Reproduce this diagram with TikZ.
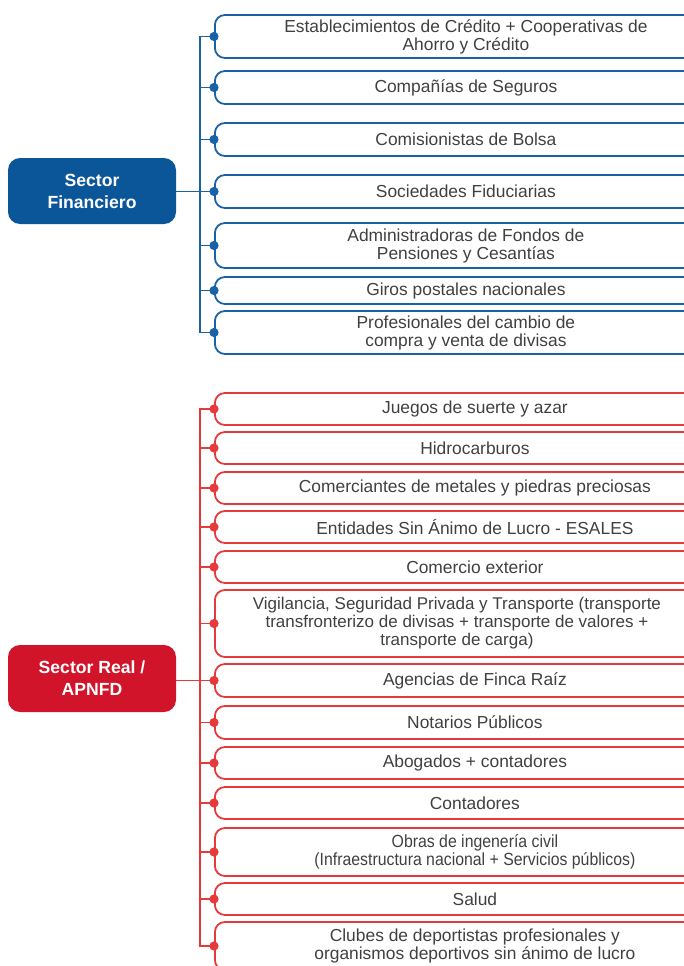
\documentclass[tikz,border=0pt]{standalone}
\usepackage{fontspec}
\setmainfont{Liberation Sans}
\newfontfamily\condfont[FakeStretch=0.9]{Liberation Sans}
\definecolor{bline}{HTML}{1A62A6}
\definecolor{bfill}{HTML}{0B5699}
\definecolor{rline}{HTML}{E6393B}
\definecolor{rfill}{HTML}{D2142B}
\definecolor{txt}{HTML}{404040}
\begin{document}
\begin{tikzpicture}[x=1pt,y=-1pt,
  itembox/.style={draw, line width=1.8pt, rounded corners=10pt, anchor=west, inner sep=0pt,
    align=center, text=txt, font=\fontsize{17.4}{18}\selectfont},
  bbox/.style={itembox, draw=bline, minimum width=502pt},
  rbox/.style={itembox, draw=rline, minimum width=520pt},
  condtext/.style={font=\condfont\fontsize{17.6}{18}\selectfont},
  sectorbox/.style={rounded corners=12pt, minimum width=168pt, inner sep=0pt, align=center,
    text=white, font=\fontsize{17.6}{22}\selectfont\bfseries},
  bconn/.style={draw=bline, line width=1.4pt},
  rconn/.style={draw=rline, line width=1.4pt},
  bdot/.style={fill=bline},
  rdot/.style={fill=rline},
]
\useasboundingbox (0,0) rectangle (684,966);

% ---------- Sector Financiero ----------
\node[sectorbox, fill=bfill, minimum height=66pt] (sf) at (92,191) {Sector\\Financiero};

\node[bbox, minimum height=43pt] (b1) at (214,36.5) {Establecimientos de Crédito + Cooperativas de\\Ahorro y Crédito};
\node[bbox, minimum height=33pt] (b2) at (214,87.5) {Compañías de Seguros};
\node[bbox, minimum height=33pt] (b3) at (214,139.5) {Comisionistas de Bolsa};
\node[bbox, minimum height=33pt] (b4) at (214,191.5) {Sociedades Fiduciarias};
\node[bbox, minimum height=45pt] (b5) at (214,245.5) {Administradoras de Fondos de\\Pensiones y Cesantías};
\node[bbox, minimum height=27pt] (b6) at (214,290.5) {Giros postales nacionales};
\node[bbox, minimum height=43pt] (b7) at (214,332.5) {Profesionales del cambio de\\compra y venta de divisas};

\coordinate (bspine) at (200,0);
\draw[bconn] (b1.west) -- (b1.west -| bspine) -- (b7.west -| bspine) -- (b7.west);
\foreach \i in {2,...,6} \draw[bconn] (b\i.west -| bspine) -- (b\i.west);
\draw[bconn] (sf.east |- b4.west) -- (b4.west);
\foreach \i in {1,...,7} \fill[bdot] (b\i.west) circle (4.6pt);

% ---------- Sector Real / APNFD ----------
\node[sectorbox, fill=rfill, minimum height=67pt] (sr) at (92,678.5) {Sector Real /\\APNFD};

\node[rbox, minimum height=32pt] (r1) at (214,409) {Juegos de suerte y azar};
\node[rbox, minimum height=32pt] (r2) at (214,448) {Hidrocarburos};
\node[rbox, minimum height=32pt] (r3) at (214,488) {Comerciantes de metales y piedras preciosas};
\node[rbox, minimum height=32pt] (r4) at (214,527) {Entidades Sin Ánimo de Lucro - ESALES};
\node[rbox, minimum height=32pt] (r5) at (214,567) {Comercio exterior};
\node[rbox, minimum width=484pt, minimum height=67pt, font=\fontsize{17}{18}\selectfont] (r6) at (214,623.5) {Vigilancia, Seguridad Privada y Transporte (transporte\\transfronterizo de divisas + transporte de valores +\\transporte de carga)};
\node[rbox, minimum height=33pt] (r7) at (214,680.5) {Agencias de Finca Raíz};
\node[rbox, minimum height=33pt] (r8) at (214,722.5) {Notarios Públicos};
\node[rbox, minimum height=32pt] (r9) at (214,763) {Abogados + contadores};
\node[rbox, minimum height=32pt] (r10) at (214,803) {Contadores};
\node[rbox, condtext, minimum height=48pt] (r11) at (214,852) {Obras de ingenería civil\\(Infraestructura nacional + Servicios públicos)};
\node[rbox, minimum height=32pt] (r12) at (214,899) {Salud};
\node[rbox, minimum height=48pt] (r13) at (214,946) {Clubes de deportistas profesionales y\\organismos deportivos sin ánimo de lucro};

\coordinate (rspine) at (200,0);
\draw[rconn] (r1.west) -- (r1.west -| rspine) -- (r13.west -| rspine) -- (r13.west);
\foreach \i in {2,...,12} \draw[rconn] (r\i.west -| rspine) -- (r\i.west);
\draw[rconn] (sr.east |- r7.west) -- (r7.west);
\foreach \i in {1,...,13} \fill[rdot] (r\i.west) circle (4.6pt);
\end{tikzpicture}
\end{document}
